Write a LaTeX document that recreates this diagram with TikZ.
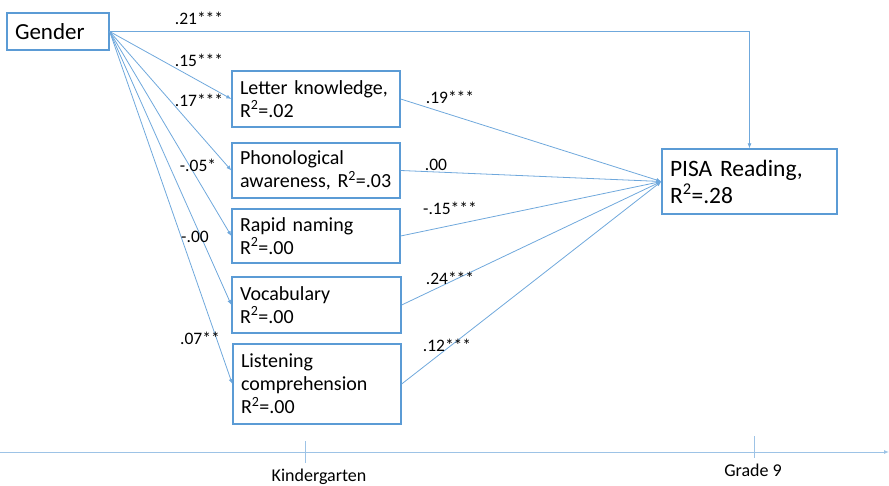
\documentclass[tikz,border=0pt]{standalone}
\usepackage{fontspec}
\setmainfont{Carlito}
\usetikzlibrary{arrows.meta}
\definecolor{boxblue}{HTML}{5B9BD5}
\definecolor{lineblue}{HTML}{6FA8DC}
\definecolor{tlblue}{HTML}{9DC3E6}
\begin{document}
\begin{tikzpicture}[x=1pt,y=-1pt,
  varbox/.style={draw=boxblue,line width=1.3pt,inner xsep=8pt,inner ysep=2pt,align=left,font=\fontsize{20}{23}\selectfont},
  conn/.style={draw=lineblue,line width=0.8pt,-{Latex[length=5pt,width=4pt]}},
  coef/.style={font=\fontsize{17.5}{20}\selectfont,inner sep=0pt},
  axislbl/.style={font=\fontsize{18}{20}\selectfont,inner sep=0pt}]
\useasboundingbox (0,0) rectangle (889,486);
\node[varbox,minimum width=102pt,minimum height=37pt,text width=86pt,font=\fontsize{23}{27}\selectfont] (gender) at (58,31.5) {Gender};
\node[varbox,minimum width=168pt,minimum height=56pt,text width=152pt] (lk) at (316,99) {Letter knowledge,\\R\textsuperscript{2}=.02};
\node[varbox,minimum width=168pt,minimum height=55pt,text width=152pt] (pa) at (316,170.5) {Phonological\\awareness, R\textsuperscript{2}=.03};
\node[varbox,minimum width=168pt,minimum height=54pt,text width=152pt] (rn) at (316,236) {Rapid naming\\R\textsuperscript{2}=.00};
\node[varbox,minimum width=169pt,minimum height=56pt,text width=153pt] (vo) at (316.5,305) {Vocabulary\\R\textsuperscript{2}=.00};
\node[varbox,minimum width=168pt,minimum height=80pt,text width=152pt] (lc) at (317,384) {Listening\\comprehension\\R\textsuperscript{2}=.00};
\node[varbox,minimum width=175pt,minimum height=65pt,text width=159pt,font=\fontsize{23.5}{27}\selectfont] (pisa) at (749.5,181.5) {PISA Reading,\\R\textsuperscript{2}=.28};
% paths from gender
\draw[conn] (gender.east) -| (pisa.north);
\draw[conn] (gender.east) -- (lk.west);
\draw[conn] (gender.east) -- (pa.west);
\draw[conn] (gender.east) -- (rn.west);
\draw[conn] (gender.east) -- (vo.west);
\draw[conn] (gender.east) -- (lc.west);
% paths to PISA
\draw[conn] (lk.east) -- (pisa.west);
\draw[conn] (pa.east) -- (pisa.west);
\draw[conn] (rn.east) -- (pisa.west);
\draw[conn] (vo.east) -- (pisa.west);
\draw[conn] (lc.east) -- (pisa.west);
% coefficients
\node[coef] (c1) at (199,18) {.21***};
\node[coef] (c2) at (199,60) {.15***};
\node[coef] (c3) at (199,100) {.17***};
\node[coef] (c4) at (198,165) {-.05*};
\node[coef] (c5) at (195,237) {-.00};
\node[coef] (c6) at (200,338) {.07**};
\node[coef] (d1) at (450,97) {.19***};
\node[coef] (d2) at (436,165) {.00};
\node[coef] (d3) at (450,208) {-.15***};
\node[coef] (d4) at (450,278) {.24***};
\node[coef] (d5) at (447,345) {.12***};
% timeline
\coordinate (t0) at (0,452);
\coordinate (t1) at (889,452);
\draw[draw=tlblue,line width=1pt,-{Latex[length=5pt,width=4pt]}] (t0) -- (t1);
\coordinate (k0) at (305,441);
\coordinate (k1) at (305,463);
\coordinate (g0) at (754,436);
\coordinate (g1) at (754,458);
\draw[draw=tlblue,line width=0.8pt] (k0) -- (k1);
\draw[draw=tlblue,line width=0.8pt] (g0) -- (g1);
\node[axislbl] (kl) at (319,477) {Kindergarten};
\node[axislbl] (gl) at (753,470) {Grade 9};
\end{tikzpicture}
\end{document}
